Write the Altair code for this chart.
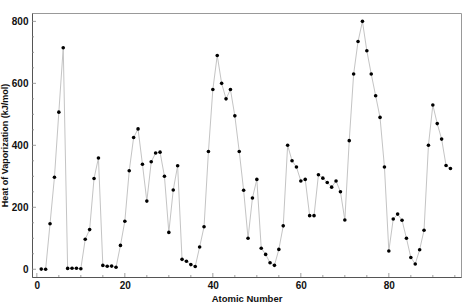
import altair as alt
import pandas as pd

atomic_number = list(range(1, 95))
heat_vap = [
    0.45, 0.08, 147, 297, 507, 715, 2.8, 3.4, 3.3, 1.7,
    97, 128, 293, 359, 12.4, 9.8, 10.2, 6.5, 77, 155,
    318, 425, 453, 339, 220, 347, 375, 378, 300, 119,
    256, 334, 32, 26, 15, 9, 72, 137, 380, 580,
    690, 600, 550, 580, 495, 380, 255, 100, 230, 290,
    68, 48, 21, 12.6, 64, 140, 400, 350, 330, 285,
    290, 173, 173, 305, 294, 280, 265, 285, 250, 159,
    415, 630, 735, 800, 705, 630, 560, 490, 330, 59,
    162, 178, 158, 100, 38, 17, 63, 126, 400, 530,
    470, 420, 335, 325,
]
x_major = [0, 20, 40, 60, 80]
x_minor = [v for v in range(5, 96, 5) if v % 20 != 0]
y_major = [0, 200, 400, 600, 800]
y_minor = [v for v in range(50, 826, 50) if v % 200 != 0]

W, H = 429, 264
df = pd.DataFrame({"z": atomic_number, "h": heat_vap})

xs = alt.Scale(domain=[-1.1, 96.4], nice=False, zero=False)
ys = alt.Scale(domain=[-25, 827], nice=False, zero=False)

font = "Liberation Sans"
x_axis = alt.Axis(values=x_major, title="Atomic Number", ticks=False, grid=False,
                  labelFont=font, labelFontWeight="bold", labelFontSize=10, labelColor="#111",
                  labelPadding=3, titleFont=font, titleFontWeight="bold", titleFontSize=9.5,
                  titleColor="#111", titlePadding=3, domainColor="#555")
y_axis = alt.Axis(values=y_major, title="Heat of Vaporization (kJ/mol)", ticks=False, grid=False,
                  labelFont=font, labelFontWeight="bold", labelFontSize=10, labelColor="#111",
                  labelPadding=4, titleFont=font, titleFontWeight="bold", titleFontSize=9,
                  titleColor="#111", titlePadding=2, domainColor="#555")

line = alt.Chart(df).mark_line(color="#c4c4c4", strokeWidth=1).encode(
    x=alt.X("z:Q", scale=xs, axis=x_axis),
    y=alt.Y("h:Q", scale=ys, axis=y_axis),
)
pts = alt.Chart(df).mark_circle(color="black", size=13, opacity=1).encode(
    x=alt.X("z:Q", scale=xs),
    y=alt.Y("h:Q", scale=ys),
)

tick_color = "#888"
ymaj = alt.Chart(pd.DataFrame({"v": y_major})).mark_rule(color=tick_color, strokeWidth=0.8).encode(
    y=alt.Y("v:Q", scale=ys), x=alt.value(0), x2=alt.value(4))
ymin = alt.Chart(pd.DataFrame({"v": y_minor})).mark_rule(color=tick_color, strokeWidth=0.8).encode(
    y=alt.Y("v:Q", scale=ys), x=alt.value(0), x2=alt.value(2))
xmaj = alt.Chart(pd.DataFrame({"v": x_major})).mark_rule(color=tick_color, strokeWidth=0.8).encode(
    x=alt.X("v:Q", scale=xs), y=alt.value(H), y2=alt.value(H - 4))
xmin = alt.Chart(pd.DataFrame({"v": x_minor})).mark_rule(color=tick_color, strokeWidth=0.8).encode(
    x=alt.X("v:Q", scale=xs), y=alt.value(H), y2=alt.value(H - 2))

chart = alt.layer(line, ymaj, ymin, xmaj, xmin, pts).properties(
    width=W, height=H,
    autosize=alt.AutoSizeParams(type="none"),
    padding={"left": 32, "top": 13, "right": 13, "bottom": 26},
    background="white",
).configure_view(stroke="#999", strokeWidth=1)

chart.save("out.html", embed_options={"renderer": "svg", "actions": False})
